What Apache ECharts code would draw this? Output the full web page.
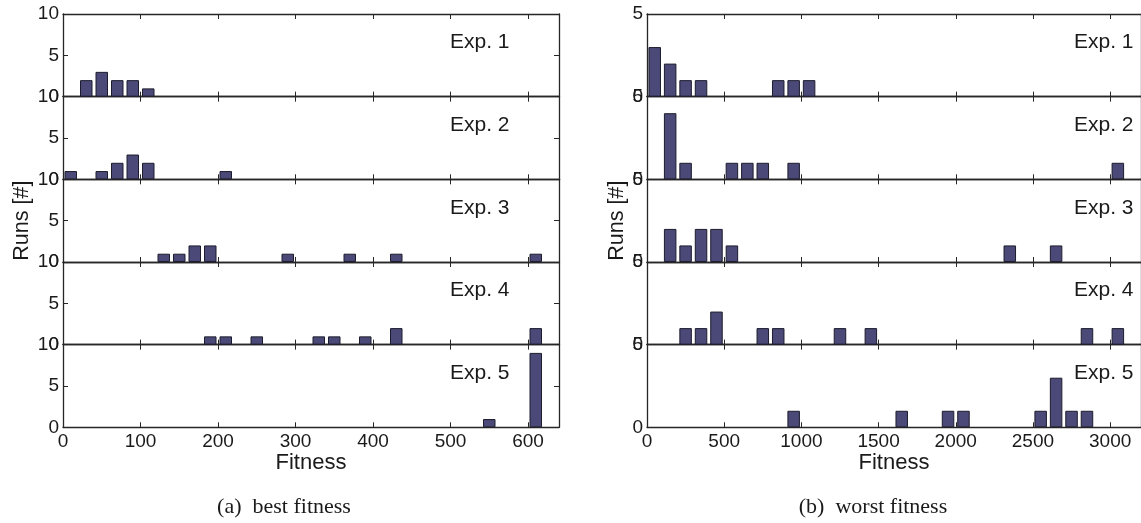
<!DOCTYPE html>
<html><head><meta charset="utf-8">
<script src="https://cdn.jsdelivr.net/npm/echarts@6/dist/echarts.min.js"></script>
<style>html,body{margin:0;padding:0;background:#fff}#c{width:1141px;height:523px}</style>
</head><body><div id="c"></div><script>
// ---- data (bin centre, number of runs) ----
const experiments = ['Exp. 1', 'Exp. 2', 'Exp. 3', 'Exp. 4', 'Exp. 5'];
const bestTicks = [0, 100, 200, 300, 400, 500, 600];
const worstTicks = [0, 500, 1000, 1500, 2000, 2500, 3000];
const bestYTicks = [0, 5, 10];
const worstYTicks = [0, 5];

const bestExp1 = [[30, 2], [50, 3], [70, 2], [90, 2], [110, 1]];
const bestExp2 = [[10, 1], [50, 1], [70, 2], [90, 3], [110, 2], [210, 1]];
const bestExp3 = [[130, 1], [150, 1], [170, 2], [190, 2], [290, 1], [370, 1], [430, 1], [610, 1]];
const bestExp4 = [[190, 1], [210, 1], [250, 1], [330, 1], [350, 1], [390, 1], [430, 2], [610, 2]];
const bestExp5 = [[550, 1], [610, 9]];

const worstExp1 = [[50, 3], [150, 2], [250, 1], [350, 1], [850, 1], [950, 1], [1050, 1]];
const worstExp2 = [[150, 4], [250, 1], [550, 1], [650, 1], [750, 1], [950, 1], [3050, 1]];
const worstExp3 = [[150, 2], [250, 1], [350, 2], [450, 2], [550, 1], [2350, 1], [2650, 1]];
const worstExp4 = [[250, 1], [350, 1], [450, 2], [750, 1], [850, 1], [1250, 1], [1450, 1], [2850, 1], [3050, 1]];
const worstExp5 = [[950, 1], [1650, 1], [1950, 1], [2050, 1], [2550, 1], [2650, 3], [2750, 1], [2850, 1]];

const bestData = [bestExp1, bestExp2, bestExp3, bestExp4, bestExp5];
const worstData = [worstExp1, worstExp2, worstExp3, worstExp4, worstExp5];

// ---- layout / style ----
const AX = '#262626';
const BAR = '#4b4978';
const FONT = '"Liberation Sans", Arial, Helvetica, sans-serif';
const TOP = 14, H = 82.66;
const panels = [
  { data: bestData, ticks: bestTicks, yTicks: bestYTicks, left: 63, width: 496, xMax: 640, yMax: 10,
    caption: '(a)  best fitness', captionX: 284, expX: 450, yNameGap: 30 },
  { data: worstData, ticks: worstTicks, yTicks: worstYTicks, left: 647, width: 497, xMax: 3200, yMax: 5,
    caption: '(b)  worst fitness', captionX: 873, expX: 1074, yNameGap: 19 }
];

const grid = [], xAxis = [], yAxis = [], series = [], graphic = [];
panels.forEach((p, pi) => {
  const interval = p.ticks[1] - p.ticks[0];
  const yInt = p.yTicks[1] - p.yTicks[0];
  p.data.forEach((d, i) => {
    const g = grid.length;
    grid.push({ left: p.left, width: p.width, top: TOP + i * H, height: H, containLabel: false });
    const last = i === p.data.length - 1;
    const baseX = {
      type: 'value', gridIndex: g, min: 0, max: p.xMax, interval: interval,
      axisLine: { show: true, onZero: false, lineStyle: { color: AX, width: 1.3 } },
      axisTick: { show: true, inside: true, length: 5, lineStyle: { color: AX, width: 1 } },
      splitLine: { show: false }
    };
    xAxis.push(Object.assign({}, baseX, {
      position: 'bottom',
      axisLabel: { show: last, color: '#1a1a1a', fontFamily: FONT, fontSize: 19, margin: 5, showMaxLabel: false,
        formatter: v => (p.ticks.indexOf(v) >= 0 ? String(v) : '') },
      name: last ? 'Fitness' : '', nameLocation: 'middle', nameGap: 25,
      nameTextStyle: { color: '#1a1a1a', fontFamily: FONT, fontSize: 22 }
    }));
    xAxis.push(Object.assign({}, baseX, { position: 'top', axisLabel: { show: false } }));
    const baseY = {
      type: 'value', gridIndex: g, min: 0, max: p.yMax, interval: yInt,
      axisLine: { show: true, onZero: false, lineStyle: { color: AX, width: 1.3 } },
      axisTick: { show: true, inside: true, length: 5, lineStyle: { color: AX, width: 1 } },
      splitLine: { show: false }
    };
    yAxis.push(Object.assign({}, baseY, {
      position: 'left',
      axisLabel: { show: true, color: '#1a1a1a', fontFamily: FONT, fontSize: 19, margin: 4 },
      name: i === 2 ? 'Runs [#]' : '', nameLocation: 'middle', nameGap: p.yNameGap,
      nameTextStyle: { color: '#1a1a1a', fontFamily: FONT, fontSize: 21.5 }
    }));
    yAxis.push(Object.assign({}, baseY, { position: 'right', axisLabel: { show: false } }));
    series.push({
      type: 'bar', xAxisIndex: xAxis.length - 2, yAxisIndex: yAxis.length - 2,
      data: d, barWidth: 12.5, silent: true,
      itemStyle: { color: BAR, borderColor: '#1c1c2c', borderWidth: 1 }
    });
    graphic.push({
      type: 'text', left: p.expX, top: TOP + i * H + 18,
      style: { text: experiments[i], font: '21px ' + FONT, fill: '#1a1a1a' }
    });
  });
  graphic.push({
    type: 'text', x: p.captionX, y: 507,
    style: { text: p.caption, font: '22px "Liberation Serif", "Times New Roman", serif', fill: '#1a1a1a',
      textAlign: 'center', textVerticalAlign: 'middle' }
  });
});

const chart = echarts.init(document.getElementById('c'), null, { renderer: 'canvas' });
chart.setOption({ animation: false, backgroundColor: '#fff', grid, xAxis, yAxis, series, graphic });
</script></body></html>
